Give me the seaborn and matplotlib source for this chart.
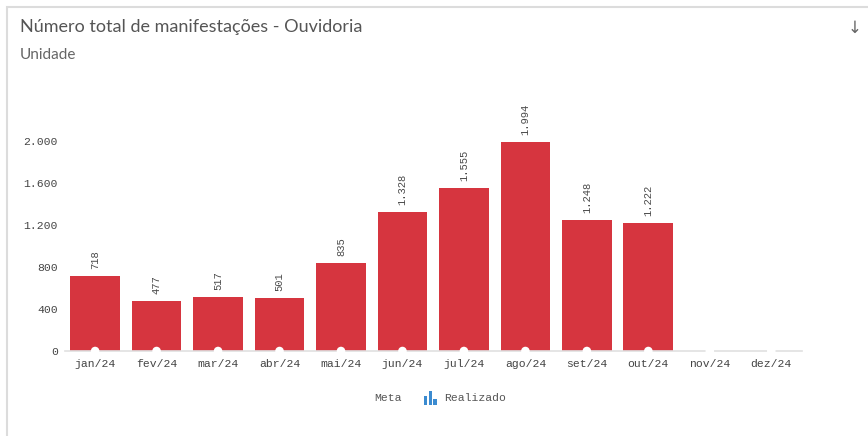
import matplotlib
matplotlib.use("Agg")
import matplotlib.pyplot as plt
import matplotlib.patches as mpatches
import seaborn as sns
import pandas as pd
import numpy as np

months = ["jan/24", "fev/24", "mar/24", "abr/24", "mai/24", "jun/24",
          "jul/24", "ago/24", "set/24", "out/24", "nov/24", "dez/24"]
realizado = [718, 477, 517, 501, 835, 1328, 1555, 1994, 1248, 1222, np.nan, np.nan]
meta = [0] * 12
y_ticks = [0, 400, 800, 1200, 1600, 2000]

title = "Número total de manifestações - Ouvidoria"
subtitle = "Unidade"

def fmt(v):
    return f"{int(v):,}".replace(",", ".")

sns.set_theme(style="white")
mono = ["Liberation Mono", "DejaVu Sans Mono"]
plt.rcParams["font.family"] = ["Lato", "DejaVu Sans"]

W, H = 868, 436
fig = plt.figure(figsize=(W / 100, H / 100), dpi=100)

# card border
fig.patches.append(mpatches.Rectangle((7 / W, -0.1), 2, 1 - 7 / H + 0.1,
                                      transform=fig.transFigure, fill=False,
                                      edgecolor="#dcdcdc", linewidth=1.5))

ax = fig.add_axes([65 / W, 1 - 351 / H, (802 - 65) / W, (351 - 99) / H])
df = pd.DataFrame({"mes": months, "realizado": realizado, "meta": meta})

bar_color = "#D6353F"
sns.barplot(data=df, x="mes", y="realizado", order=months, color=bar_color,
            width=0.81, saturation=1, ax=ax, errorbar=None, linewidth=0)
sns.scatterplot(data=df, x="mes", y="meta", color="white", s=38,
                edgecolor="none", ax=ax, zorder=5, clip_on=False, legend=False)

for i, v in enumerate(realizado):
    if not np.isnan(v):
        ax.annotate(fmt(v), (i, v), xytext=(0, 5), textcoords="offset points",
                    rotation=90, ha="center", va="bottom", fontsize=7.6,
                    color="#4a4a4a", family=mono)

ax.set_ylim(0, 2400)
ax.set_xlim(-0.49, 11.5)
ax.set_yticks(y_ticks)
ax.set_yticklabels([fmt(t) for t in y_ticks], family=mono, fontsize=8.2, color="#444444")
ax.set_xticks(range(len(months)))
ax.set_xticklabels(months, family=mono, fontsize=8.2, color="#444444")
ax.tick_params(axis="y", length=0, pad=5)
ax.tick_params(axis="x", length=0, pad=6)
ax.set_xlabel("")
ax.set_ylabel("")
for s in ["top", "right", "left"]:
    ax.spines[s].set_visible(False)
ax.spines["bottom"].set_color("#e0e0e0")
ax.spines["bottom"].set_linewidth(1.2)
ax.patch.set_alpha(0)

fig.text(20 / W, 1 - 27 / H, title, fontsize=13, color="#555555", va="center", ha="left")
fig.text(20 / W, 1 - 55 / H, subtitle, fontsize=11, color="#666666", va="center", ha="left")
fig.text(855 / W, 1 - 28 / H, "↓", fontsize=12, color="#666666", va="center", ha="center",
         family=["DejaVu Sans"])

# legend
fig.text(388 / W, 1 - 398 / H, "Meta", family=mono, fontsize=8.2, color="#555555",
         ha="center", va="center")
icon_color = "#3B8BD0"
for dx, h in [(0, 9), (4.7, 14), (9.4, 6)]:
    fig.patches.append(mpatches.Rectangle(((424 + dx) / W, 1 - 405 / H), 3.3 / W, h / H,
                                          transform=fig.transFigure, color=icon_color,
                                          linewidth=0))
fig.text(444 / W, 1 - 398 / H, "Realizado", family=mono, fontsize=8.2, color="#555555",
         ha="left", va="center")

fig.savefig("out.png", dpi=100)
